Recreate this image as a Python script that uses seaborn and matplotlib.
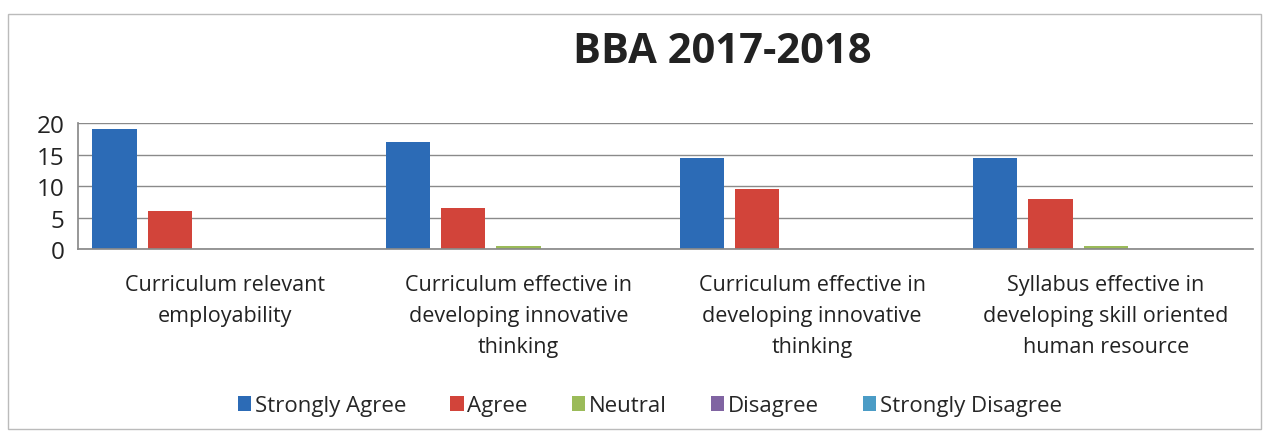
import pandas as pd
import seaborn as sns
import matplotlib.pyplot as plt
from matplotlib.patches import Rectangle, Patch

sns.set_theme(style="white")
plt.rcParams['font.family'] = ['Open Sans', 'DejaVu Sans']

# dados
items = ["Q1", "Q2", "Q3", "Q4"]
item_labels = [
    "Curriculum relevant\nemployability",
    "Curriculum effective in\ndeveloping innovative\nthinking",
    "Curriculum effective in\ndeveloping innovative\nthinking",
    "Syllabus effective in\ndeveloping skill oriented\nhuman resource",
]
responses = ["Strongly Agree", "Agree", "Neutral", "Disagree", "Strongly Disagree"]
strongly_agree = [19, 17, 14.5, 14.5]
agree = [6, 6.5, 9.5, 8]
neutral = [0, 0.5, 0, 0.5]
disagree = [0, 0, 0, 0]
strongly_disagree = [0, 0, 0, 0]

colors = ["#2C6BB6", "#D2443A", "#9BBB59", "#8064A2", "#4B9CC6"]

series = [strongly_agree, agree, neutral, disagree, strongly_disagree]
rows = []
for resp, vals in zip(responses, series):
    for it, v in zip(items, vals):
        rows.append({"item": it, "response": resp, "count": v})
df = pd.DataFrame(rows)

fig = plt.figure(figsize=(12.69, 4.39), dpi=100)
ax = fig.add_axes([0.0615, 0.4305, 0.9255, 0.287])

sns.barplot(data=df, x="item", y="count", hue="response",
            order=items, hue_order=responses,
            palette=dict(zip(responses, colors)), saturation=1,
            width=0.94, gap=0.2, edgecolor="none", ax=ax, legend=False)

ax.set_ylim(0, 20)
ax.set_yticks([0, 5, 10, 15, 20])
ax.set_xlim(-0.5, 3.5)
ax.yaxis.grid(True, color="#8a8a8a", lw=1)
ax.set_axisbelow(True)
for s in ["top", "right"]:
    ax.spines[s].set_visible(False)
for s in ["left", "bottom"]:
    ax.spines[s].set_color("#8a8a8a")
ax.set_xlabel("")
ax.set_ylabel("")
ax.set_xticks(range(len(items)))
ax.set_xticklabels(item_labels, fontsize=15.5, color="#222222", linespacing=1.62)
ax.tick_params(axis="x", length=0, pad=18)
ax.tick_params(axis="y", length=0, pad=10, labelsize=17.5, labelcolor="#222222")

fig.text(0.569, 0.88, "BBA 2017-2018", ha="center", va="center",
         fontsize=30, fontweight="bold", color="#222222")

handles = [Patch(facecolor=c, edgecolor="none") for c in colors]
fig.legend(handles, responses, loc="center", bbox_to_anchor=(0.512, 0.073),
           ncol=5, frameon=False, fontsize=16, handlelength=0.6, handleheight=0.7,
           handletextpad=0.15, columnspacing=2.0)

fig.add_artist(Rectangle((0.006, 0.02), 0.988, 0.945, transform=fig.transFigure,
                         fill=False, edgecolor="#bbbbbb", lw=1))

plt.savefig("out.png", dpi=100)
plt.close()
